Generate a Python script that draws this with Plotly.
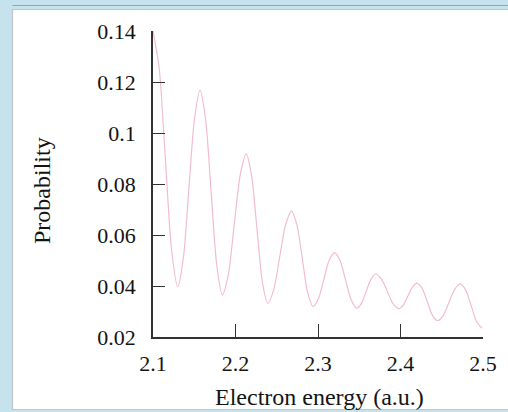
import plotly.graph_objects as go

# Electron energy (a.u.) and detection probability
energy = [2.1000, 2.1075, 2.1150, 2.1225,
          2.1300, 2.1368, 2.1435, 2.1503,
          2.1570, 2.1638, 2.1705, 2.1773,
          2.1840, 2.1913, 2.1985, 2.2058,
          2.2130, 2.2195, 2.2260, 2.2325,
          2.2390, 2.2463, 2.2535, 2.2608,
          2.2680, 2.2745, 2.2810, 2.2875,
          2.2940, 2.3005, 2.3070, 2.3135,
          2.3200, 2.3268, 2.3335, 2.3403,
          2.3470, 2.3528, 2.3585, 2.3643,
          2.3700, 2.3770, 2.3840, 2.3910,
          2.3980, 2.4035, 2.4090, 2.4145,
          2.4200, 2.4263, 2.4325, 2.4388,
          2.4450, 2.4519, 2.4588, 2.4657,
          2.4726, 2.4792, 2.4858, 2.4924,
          2.4990]
probability = [0.1400, 0.1254, 0.0899, 0.0543,
               0.0397, 0.0510, 0.0783, 0.1055,
               0.1168, 0.1051, 0.0767, 0.0482,
               0.0365, 0.0446, 0.0642, 0.0837,
               0.0918, 0.0832, 0.0625, 0.0418,
               0.0332, 0.0385, 0.0513, 0.0641,
               0.0694, 0.0639, 0.0507, 0.0374,
               0.0319, 0.0350, 0.0425, 0.0500,
               0.0531, 0.0499, 0.0422, 0.0345,
               0.0313, 0.0333, 0.0380, 0.0427,
               0.0447, 0.0427, 0.0379, 0.0331,
               0.0311, 0.0326, 0.0361, 0.0396,
               0.0411, 0.0390, 0.0338, 0.0285,
               0.0264, 0.0285, 0.0336, 0.0387,
               0.0408, 0.0383, 0.0321, 0.0259,
               0.0234]

x_ticks = [2.1, 2.2, 2.3, 2.4, 2.5]
x_tick_labels = ["2.1", "2.2", "2.3", "2.4", "2.5"]
y_ticks = [0.02, 0.04, 0.06, 0.08, 0.10, 0.12, 0.14]
y_tick_labels = ["0.02", "0.04", "0.06", "0.08", "0.1", "0.12", "0.14"]

FONT = "Liberation Serif, Times New Roman, serif"
AXIS = "#333333"
TEXT = "#141414"

fig = go.Figure()
fig.add_trace(go.Scatter(
    x=energy, y=probability, mode="lines",
    line=dict(color="#f3bccb", width=1.2, shape="spline", smoothing=0.8),
    hoverinfo="skip", showlegend=False,
))

L, R, T, B = 153, 25, 31, 75
W, H = 508, 412
pw, ph = W - L - R, H - T - B

def px(xp):
    return (xp - L) / pw

def py(yp):
    return (H - B - yp) / ph

# white panel with a thin grey frame on the blue page
fig.add_shape(type="rect", xref="paper", yref="paper",
              x0=px(12.5), x1=px(520), y0=py(409.5), y1=py(9.5),
              fillcolor="white", line=dict(color="#bfc6c9", width=1.2),
              layer="below")
fig.add_shape(type="line", xref="paper", yref="paper",
              x0=px(12.5), x1=px(520), y0=py(5.5), y1=py(5.5),
              line=dict(color="#8fa6b0", width=1), layer="below")

# axis titles
fig.add_annotation(text="Electron energy (a.u.)", xref="paper", yref="paper",
                   x=px(319), y=py(397), xanchor="center", yanchor="middle",
                   showarrow=False, font=dict(family=FONT, size=24, color=TEXT))
fig.add_annotation(text="Probability", xref="paper", yref="paper",
                   x=px(42), y=py(191), xanchor="center", yanchor="middle",
                   textangle=-90, showarrow=False,
                   font=dict(family=FONT, size=24, color=TEXT))

fig.update_layout(
    width=W, height=H,
    margin=dict(l=L, r=R, t=T, b=B, pad=0),
    paper_bgcolor="#c6e2ed",
    plot_bgcolor="rgba(0,0,0,0)",
    font=dict(family=FONT, color=TEXT, size=22),
    xaxis=dict(
        range=[2.1, 2.5], tickvals=x_ticks, ticktext=x_tick_labels,
        ticks="inside", ticklen=13, tickwidth=1.3, tickcolor=AXIS,
        showline=True, linecolor=AXIS, linewidth=1.5, mirror=False,
        showgrid=False, zeroline=False, ticklabelstandoff=6,
        tickfont=dict(family=FONT, size=22, color=TEXT),
    ),
    yaxis=dict(
        range=[0.02, 0.14], tickvals=y_ticks, ticktext=y_tick_labels,
        ticks="inside", ticklen=12, tickwidth=1.3, tickcolor=AXIS,
        showline=True, linecolor=AXIS, linewidth=1.5, mirror=False,
        showgrid=False, zeroline=False, ticklabelstandoff=11,
        tickfont=dict(family=FONT, size=22, color=TEXT),
    ),
)

fig.write_html("out.html")
